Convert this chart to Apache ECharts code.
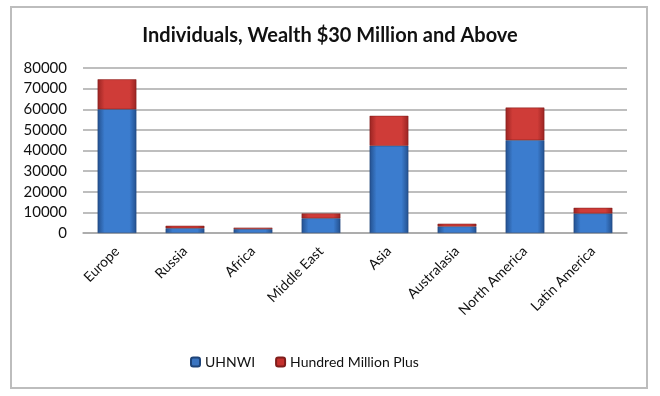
<!DOCTYPE html>
<html><head><meta charset="utf-8">
<script src="https://cdn.jsdelivr.net/npm/echarts@6/dist/echarts.min.js"></script>
<style>html,body{margin:0;padding:0;background:#fff}#c{width:660px;height:396px}</style>
</head><body><div id="c"></div>
<script>
var categories = ["Europe","Russia","Africa","Middle East","Asia","Australasia","North America","Latin America"];
var uhnwi = [60000, 2300, 1900, 7100, 42300, 3200, 45000, 9500];
var hundredMillionPlus = [14500, 1200, 700, 2400, 14500, 1300, 15800, 2700];
var yTicks = [0, 10000, 20000, 30000, 40000, 50000, 60000, 70000, 80000];

function grad(edge, mid) {
  return new echarts.graphic.LinearGradient(0, 0, 1, 0, [
    {offset: 0, color: edge}, {offset: 0.18, color: mid},
    {offset: 0.82, color: mid}, {offset: 1, color: edge}
  ]);
}
var chart = echarts.init(document.getElementById('c'));
chart.setOption({
  animation: false,
  graphic: [{type: 'rect', shape: {x: 11, y: 7, width: 636, height: 381},
    style: {fill: 'none', stroke: '#bdbdbd', lineWidth: 2}, z: -1}],
  title: {text: 'Individuals, Wealth $30 Million and Above', left: 'center', top: 21,
    textStyle: {fontFamily: 'Lato', fontWeight: 'bold', fontSize: 20, color: '#111'}},
  legend: {bottom: 22, left: 185, itemWidth: 9, itemHeight: 9, itemGap: 20,
    textStyle: {fontFamily: 'Lato', fontSize: 14, color: '#111'},
    data: [{name: 'UHNWI', itemStyle: {color: '#3a74c0'}}, {name: 'Hundred Million Plus', itemStyle: {color: '#c4302d'}}]},
  grid: {left: 83, right: 33, top: 68, bottom: 163},
  xAxis: {type: 'category', data: categories,
    axisLine: {lineStyle: {color: '#a8a8a8', width: 1.5}}, axisTick: {show: false},
    axisLabel: {rotate: 45, interval: 0, fontFamily: 'Lato', fontSize: 14, color: '#111', margin: 16}},
  yAxis: {type: 'value', min: yTicks[0], max: yTicks[yTicks.length - 1], interval: 10000,
    axisLine: {show: false}, axisTick: {show: false},
    splitLine: {lineStyle: {color: '#a8a8a8', width: 1.5}},
    axisLabel: {fontFamily: 'Lato', fontSize: 15, color: '#111', margin: 16,
      formatter: function (v) { return String(v); }}},
  series: [
    {name: 'UHNWI', type: 'bar', stack: 's', data: uhnwi, barWidth: '57%',
      itemStyle: {color: grad('#23508e', '#3b7cce'), borderColor: '#1e4377', borderWidth: 0.5}},
    {name: 'Hundred Million Plus', type: 'bar', stack: 's', data: hundredMillionPlus, barWidth: '57%',
      itemStyle: {color: grad('#9a2422', '#cf3c38'), borderColor: '#7f1d1b', borderWidth: 0.5}}
  ]
});
</script></body></html>
